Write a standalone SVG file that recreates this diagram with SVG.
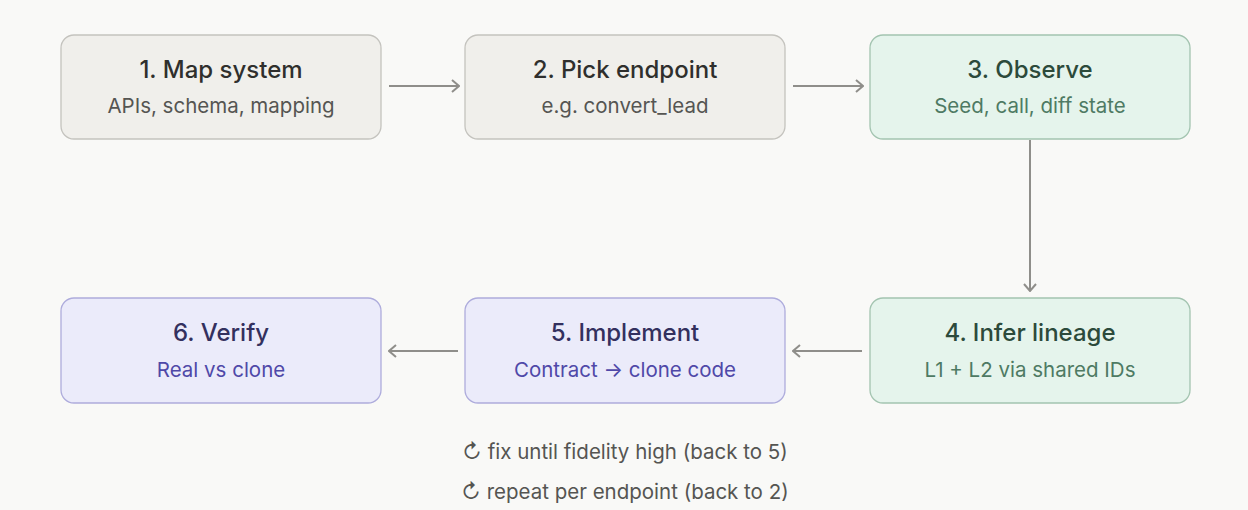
<svg xmlns="http://www.w3.org/2000/svg" width="1248" height="510" viewBox="0 0 1248 510">
<style>
text{font-family:Inter,"Noto Sans",sans-serif;text-anchor:middle}
.t{font-size:24px;font-weight:500}
.s{font-size:20.5px}
.g rect{fill:#f0efeb;stroke:#c4c3be;stroke-width:1.3}
.g .t{fill:#2f2f2d}.g .s{fill:#555552}
.gr rect{fill:#e5f4ec;stroke:#a3c4b0;stroke-width:1.3}
.gr .t{fill:#2c4a3b}.gr .s{fill:#4e7a63}
.p rect{fill:#ebebfa;stroke:#aeacdc;stroke-width:1.3}
.p .t{fill:#33305e}.p .s{fill:#4f48a8}
.c line{stroke:#8f8e8a;stroke-width:2;marker-end:url(#a)}
.n{font-size:20.5px;fill:#555552}
</style>
<defs><marker id="a" viewBox="0 0 14 14" refX="13" refY="7" markerWidth="14" markerHeight="14" orient="auto" markerUnits="userSpaceOnUse"><path d="M6 1L13 7L6 13" fill="none" stroke="#8f8e8a" stroke-width="2"/></marker></defs>
<rect width="1248" height="510" fill="#f9f9f7"/>
<g id="n1" class="g"><rect x="61" y="35" width="320" height="104" rx="13"/><text class="t" x="221" y="78">1. Map system</text><text class="s" x="221" y="113">APIs, schema, mapping</text></g>
<g id="n2" class="g"><rect x="465" y="35" width="320" height="104" rx="13"/><text class="t" x="625" y="78">2. Pick endpoint</text><text class="s" x="625" y="113">e.g. convert_lead</text></g>
<g id="n3" class="gr"><rect x="870" y="35" width="320" height="104" rx="13"/><text class="t" x="1030" y="78">3. Observe</text><text class="s" x="1030" y="113">Seed, call, diff state</text></g>
<g id="n4" class="gr"><rect x="870" y="298" width="320" height="105" rx="13"/><text class="t" x="1030" y="341">4. Infer lineage</text><text class="s" x="1030" y="377">L1 + L2 via shared IDs</text></g>
<g id="n5" class="p"><rect x="465" y="298" width="320" height="105" rx="13"/><text class="t" x="625" y="341">5. Implement</text><text class="s" x="625" y="377">Contract → clone code</text></g>
<g id="n6" class="p"><rect x="61" y="298" width="320" height="105" rx="13"/><text class="t" x="221" y="341">6. Verify</text><text class="s" x="221" y="377">Real vs clone</text></g>
<g class="c">
<line x1="389" y1="86" x2="459" y2="86"/>
<line x1="793" y1="86" x2="863" y2="86"/>
<line x1="1030" y1="140" x2="1030" y2="291"/>
<line x1="862" y1="351" x2="793" y2="351"/>
<line x1="458" y1="351" x2="389" y2="351"/>
</g>
<text class="n" x="625" y="459">↻ fix until fidelity high (back to 5)</text>
<text class="n" x="625" y="499">↻ repeat per endpoint (back to 2)</text>
</svg>
